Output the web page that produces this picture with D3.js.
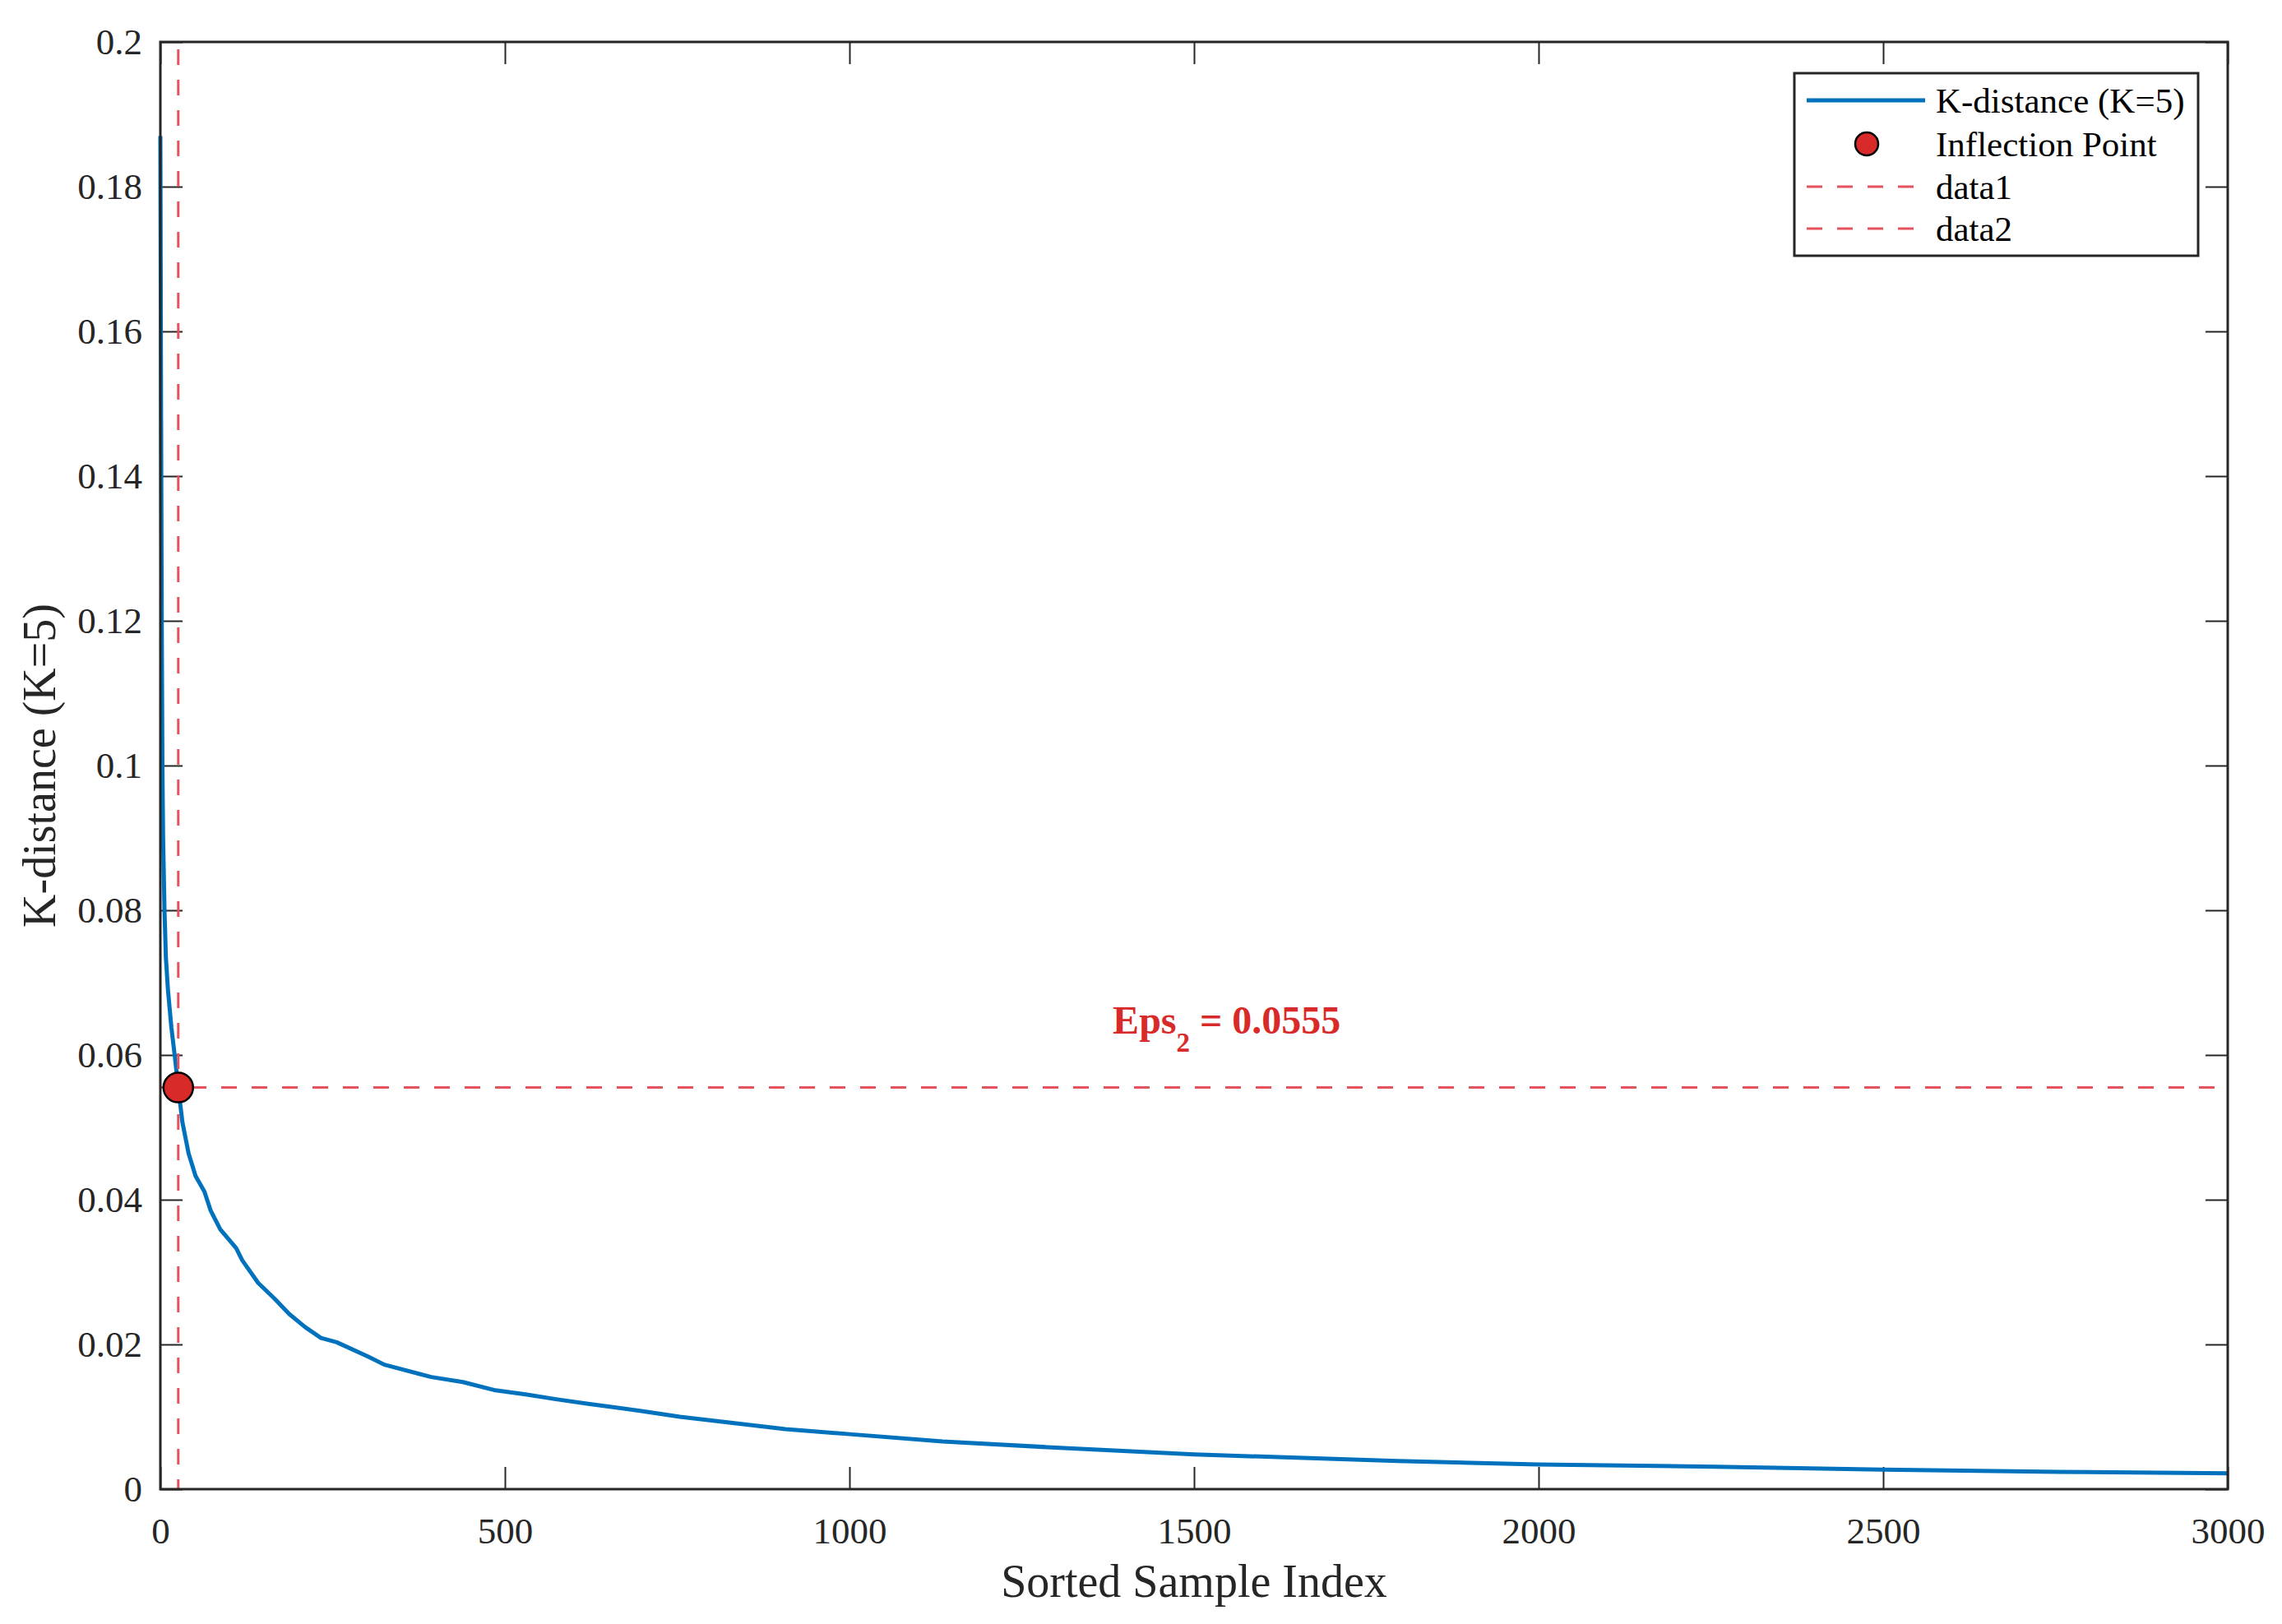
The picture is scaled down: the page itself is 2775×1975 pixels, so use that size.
<!DOCTYPE html>
<html>
<head>
<meta charset="utf-8">
<script src="https://cdn.jsdelivr.net/npm/d3@7"></script>
<style>
    body { margin: 0; background: #fff; }
    text { font-family: "Liberation Serif", "Times New Roman", serif; }
</style>
</head>
<body>
<script>
"use strict";

// sorted sample index / k-distance
var sampleIndex = [0, 1, 2, 3, 4, 6, 8, 11, 16, 21, 26, 32, 41, 51, 64, 73, 87, 110, 119,
    142, 165, 187, 210, 233, 256, 302, 325, 393, 439, 484, 530, 576, 621, 698, 754,
    907, 1000, 1135, 1287, 1500, 1795, 2000, 2257, 2500, 2754, 3000];
var kDistance = [0.187, 0.150, 0.120, 0.100, 0.090, 0.080, 0.0735, 0.069, 0.0638, 0.0598,
    0.0555, 0.0507, 0.0464, 0.0433, 0.0411, 0.0385, 0.0359, 0.0333, 0.0316,
    0.0285, 0.0264, 0.0242, 0.0224, 0.0209, 0.0203, 0.0183, 0.0172, 0.0155, 0.0148,
    0.0137, 0.0131, 0.0124, 0.0118, 0.0108, 0.0100, 0.0083, 0.0076, 0.0066, 0.0058,
    0.0048, 0.0039, 0.0034, 0.0031, 0.0027, 0.0024, 0.0022];

var inflectionIndex = 26;
var inflectionEps = 0.0555;

var xTicks = [0, 500, 1000, 1500, 2000, 2500, 3000];
var xTickLabels = ["0", "500", "1000", "1500", "2000", "2500", "3000"];
var yTicks = [0, 0.02, 0.04, 0.06, 0.08, 0.1, 0.12, 0.14, 0.16, 0.18, 0.2];
var yTickLabels = ["0", "0.02", "0.04", "0.06", "0.08", "0.1", "0.12", "0.14", "0.16", "0.18", "0.2"];

var legendLabels = ["K-distance (K=5)", "Inflection Point", "data1", "data2"];

function init() {
    var W = 2775, H = 1975;
    var margin = {left: 195, top: 51, right: 66, bottom: 164};
    var w = W - margin.left - margin.right;
    var h = H - margin.top - margin.bottom;

    var axisColor = "#262626";
    var blue = "#0072BD";
    var dashRed = "#e5535d";
    var dotRed = "#d92a2a";

    var svg = d3.select("body")
        .append("svg")
        .attr("width", W)
        .attr("height", H);

    svg.append("rect").attr("width", W).attr("height", H).attr("fill", "#fff");

    var g = svg.append("g")
        .attr("transform", "translate(" + margin.left + "," + margin.top + ")");

    var xScale = d3.scaleLinear().domain([0, 3000]).range([0, w]);
    var yScale = d3.scaleLinear().domain([0, 0.2]).range([h, 0]);

    // axes, ticks inside, mirrored on top/right
    function styleAxis(sel) {
        sel.select(".domain").remove();
        sel.selectAll(".tick line").attr("stroke", axisColor).attr("stroke-width", 2);
        sel.selectAll(".tick text")
            .attr("fill", axisColor)
            .style("font-size", "45px");
    }

    g.append("g")
        .attr("transform", "translate(0," + h + ")")
        .call(d3.axisBottom(xScale).tickValues(xTicks)
            .tickFormat(function (d, i) { return xTickLabels[i]; })
            .tickSizeInner(-27).tickSizeOuter(0).tickPadding(34))
        .call(styleAxis);

    g.append("g")
        .call(d3.axisTop(xScale).tickValues(xTicks).tickFormat("")
            .tickSizeInner(-27).tickSizeOuter(0))
        .call(styleAxis);

    g.append("g")
        .call(d3.axisLeft(yScale).tickValues(yTicks)
            .tickFormat(function (d, i) { return yTickLabels[i]; })
            .tickSizeInner(-27).tickSizeOuter(0).tickPadding(22))
        .call(styleAxis);

    g.append("g")
        .attr("transform", "translate(" + w + ",0)")
        .call(d3.axisRight(yScale).tickValues(yTicks).tickFormat("")
            .tickSizeInner(-27).tickSizeOuter(0))
        .call(styleAxis);

    // k-distance curve
    var pts = sampleIndex.map(function (d, i) { return [d, kDistance[i]]; });
    var line = d3.line()
        .x(function (d) { return xScale(d[0]); })
        .y(function (d) { return yScale(d[1]); });

    g.append("path")
        .datum(pts)
        .attr("d", line)
        .attr("fill", "none")
        .attr("stroke", blue)
        .attr("stroke-width", 5)
        .attr("stroke-linejoin", "round");

    // dashed guide lines
    g.append("line")
        .attr("x1", xScale(inflectionIndex)).attr("x2", xScale(inflectionIndex))
        .attr("y1", yScale(0.2)).attr("y2", yScale(0))
        .attr("stroke", dashRed).attr("stroke-width", 3)
        .attr("stroke-dasharray", "19,18").attr("stroke-dashoffset", 28);

    g.append("line")
        .attr("x1", xScale(0)).attr("x2", xScale(3000))
        .attr("y1", yScale(inflectionEps)).attr("y2", yScale(inflectionEps))
        .attr("stroke", dashRed).attr("stroke-width", 3)
        .attr("stroke-dasharray", "19,18");

    // inflection point
    g.append("circle")
        .attr("cx", xScale(inflectionIndex))
        .attr("cy", yScale(inflectionEps))
        .attr("r", 18)
        .attr("fill", dotRed)
        .attr("stroke", "#000")
        .attr("stroke-width", 2.5);

    // eps annotation
    var eps = g.append("text")
        .attr("x", xScale(1382))
        .attr("y", yScale(0.063))
        .attr("fill", dotRed)
        .style("font-size", "48px")
        .style("font-weight", "bold");
    eps.append("tspan").text("Eps");
    eps.append("tspan").attr("dy", 22).style("font-size", "33px").text("2");
    eps.append("tspan").attr("dy", -22).text(" = " + inflectionEps);

    // box
    g.append("rect")
        .attr("width", w).attr("height", h)
        .attr("fill", "none")
        .attr("stroke", axisColor)
        .attr("stroke-width", 3);

    // axis labels
    svg.append("text")
        .attr("x", margin.left + w / 2)
        .attr("y", 1942)
        .attr("text-anchor", "middle")
        .attr("fill", axisColor)
        .style("font-size", "56px")
        .text("Sorted Sample Index");

    svg.append("text")
        .attr("transform", "translate(67," + (margin.top + h / 2) + ") rotate(-90)")
        .attr("text-anchor", "middle")
        .attr("fill", axisColor)
        .style("font-size", "56px")
        .text("K-distance (K=5)");

    // legend
    var lg = svg.append("g");
    lg.append("rect")
        .attr("x", 2182).attr("y", 89)
        .attr("width", 491).attr("height", 222)
        .attr("fill", "#fff")
        .attr("stroke", axisColor)
        .attr("stroke-width", 3);

    var rowY = [122, 175, 227, 278];

    lg.append("line")
        .attr("x1", 2197).attr("x2", 2341)
        .attr("y1", rowY[0]).attr("y2", rowY[0])
        .attr("stroke", blue).attr("stroke-width", 5);

    lg.append("circle")
        .attr("cx", 2270).attr("cy", rowY[1]).attr("r", 14)
        .attr("fill", dotRed).attr("stroke", "#000").attr("stroke-width", 2.5);

    [2, 3].forEach(function (i) {
        lg.append("line")
            .attr("x1", 2197).attr("x2", 2328)
            .attr("y1", rowY[i]).attr("y2", rowY[i])
            .attr("stroke", dashRed).attr("stroke-width", 3)
            .attr("stroke-dasharray", "19,18");
    });

    lg.selectAll("text.lab")
        .data(legendLabels)
        .enter()
        .append("text")
        .attr("class", "lab")
        .attr("x", 2354)
        .attr("y", function (d, i) { return rowY[i]; })
        .attr("dominant-baseline", "central")
        .attr("fill", "#000")
        .style("font-size", "43px")
        .text(function (d) { return d; });
}

window.onload = init;
</script>
</body>
</html>
